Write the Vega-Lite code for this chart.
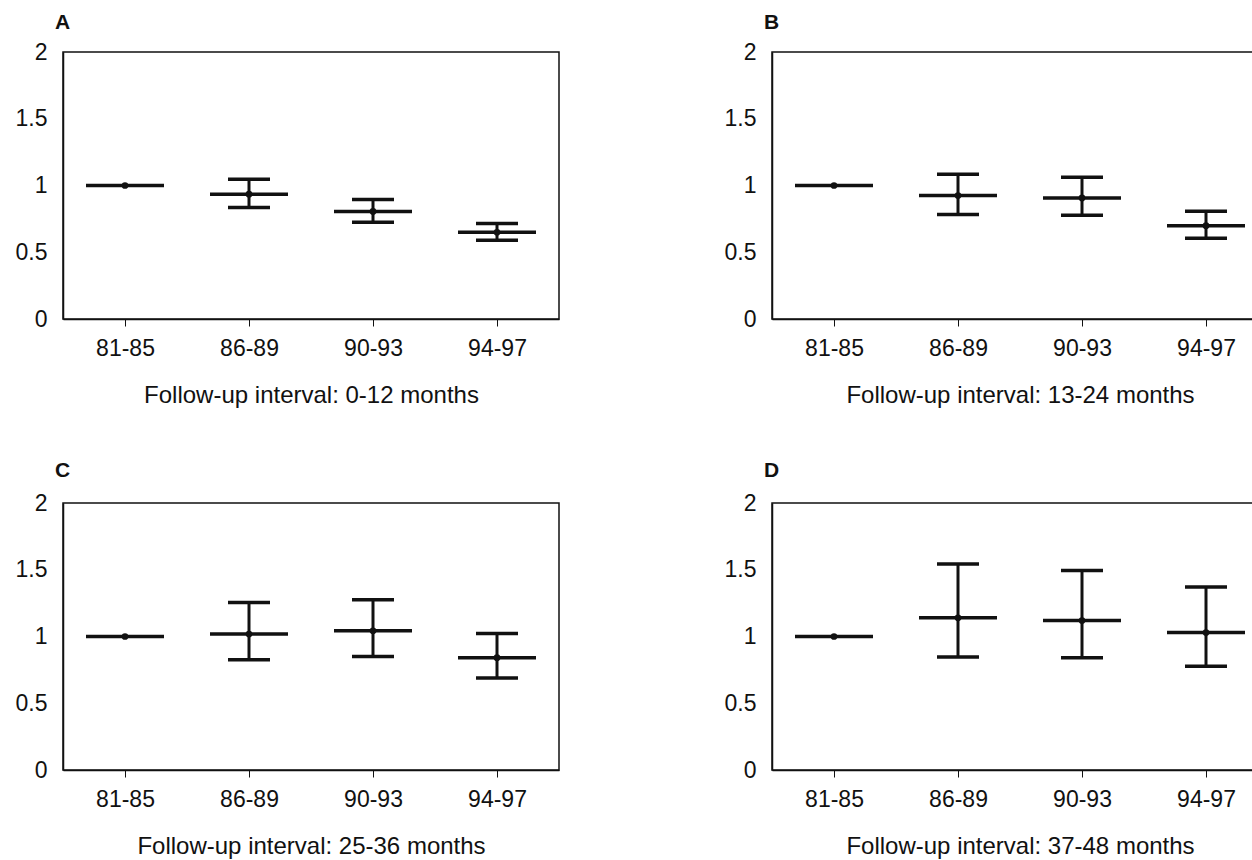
{
  "$schema": "https://vega.github.io/schema/vega-lite/v6.json",
  "background": "white",
  "padding": {"left": 14, "top": 11, "right": 0, "bottom": 0},
  "config": {
    "font": "Liberation Sans",
    "view": {"stroke": "#111", "strokeWidth": 1.5},
    "axis": {"labelFont": "Liberation Sans", "labelFontSize": 23, "labelColor": "#111", "titleFont": "Liberation Sans", "titleFontSize": 24, "titleFontWeight": "normal", "titleColor": "#111", "grid": false, "domainColor": "#111", "domainWidth": 1.5, "tickColor": "#111"},
    "title": {"font": "Liberation Sans", "fontSize": 21, "fontWeight": "bold", "anchor": "start", "frame": "group", "color": "#111", "offset": 8, "dx": -8},
    "tick": {"opacity": 1}
  },
  "datasets": {
    "d": [
      {"panel": "A", "period": "81-85", "est": 1.0, "lo": null, "hi": null},
      {"panel": "A", "period": "86-89", "est": 0.935, "lo": 0.835, "hi": 1.046},
      {"panel": "A", "period": "90-93", "est": 0.806, "lo": 0.724, "hi": 0.896},
      {"panel": "A", "period": "94-97", "est": 0.649, "lo": 0.59, "hi": 0.716},
      {"panel": "B", "period": "81-85", "est": 1.0, "lo": null, "hi": null},
      {"panel": "B", "period": "86-89", "est": 0.925, "lo": 0.783, "hi": 1.085},
      {"panel": "B", "period": "90-93", "est": 0.907, "lo": 0.778, "hi": 1.061},
      {"panel": "B", "period": "94-97", "est": 0.699, "lo": 0.604, "hi": 0.808},
      {"panel": "C", "period": "81-85", "est": 1.0, "lo": null, "hi": null},
      {"panel": "C", "period": "86-89", "est": 1.018, "lo": 0.826, "hi": 1.255},
      {"panel": "C", "period": "90-93", "est": 1.043, "lo": 0.851, "hi": 1.275},
      {"panel": "C", "period": "94-97", "est": 0.841, "lo": 0.689, "hi": 1.023},
      {"panel": "D", "period": "81-85", "est": 1.0, "lo": null, "hi": null},
      {"panel": "D", "period": "86-89", "est": 1.14, "lo": 0.847, "hi": 1.544},
      {"panel": "D", "period": "90-93", "est": 1.12, "lo": 0.84, "hi": 1.494},
      {"panel": "D", "period": "94-97", "est": 1.03, "lo": 0.777, "hi": 1.371}
    ]
  },
  "columns": 2,
  "spacing": {"row": 51, "column": 163},
  "concat": [
    {
      "title": {"text": "A"},
      "width": 496, "height": 267,
      "data": {"name": "d"},
      "transform": [{"filter": "datum.panel == 'A'"}],
      "encoding": {
        "x": {"field": "period", "type": "ordinal", "scale": {"type": "point", "padding": 0.5}, "axis": {"title": "Follow-up interval: 0-12 months", "labelAngle": 0, "tickSize": 7, "tickWidth": 1, "labelPadding": 11, "titlePadding": 23}}
      },
      "layer": [
        {"transform": [{"filter": "datum.lo != null"}], "mark": {"type": "rule", "strokeWidth": 3, "color": "#111"}, "encoding": {"y": {"field": "lo", "type": "quantitative", "scale": {"domain": [0, 2], "nice": false}, "axis": {"values": [0, 0.5, 1, 1.5, 2], "format": "~g", "ticks": false, "domain": true, "labelPadding": 16, "title": null}}, "y2": {"field": "hi"}}},
        {"transform": [{"filter": "datum.lo != null"}], "mark": {"type": "tick", "size": 42, "thickness": 3.5, "color": "#111", "opacity": 1}, "encoding": {"y": {"field": "hi", "type": "quantitative"}}},
        {"transform": [{"filter": "datum.lo != null"}], "mark": {"type": "tick", "size": 42, "thickness": 3.5, "color": "#111", "opacity": 1}, "encoding": {"y": {"field": "lo", "type": "quantitative"}}},
        {"mark": {"type": "tick", "size": 78, "thickness": 3.5, "color": "#111", "opacity": 1}, "encoding": {"y": {"field": "est", "type": "quantitative"}}},
        {"mark": {"type": "point", "shape": "circle", "filled": true, "size": 45, "color": "#111", "opacity": 1}, "encoding": {"y": {"field": "est", "type": "quantitative"}}}
      ]
    },
    {
      "title": {"text": "B"},
      "width": 496, "height": 267,
      "data": {"name": "d"},
      "transform": [{"filter": "datum.panel == 'B'"}],
      "encoding": {
        "x": {"field": "period", "type": "ordinal", "scale": {"type": "point", "padding": 0.5}, "axis": {"title": "Follow-up interval: 13-24 months", "labelAngle": 0, "tickSize": 7, "tickWidth": 1, "labelPadding": 11, "titlePadding": 23}}
      },
      "layer": [
        {"transform": [{"filter": "datum.lo != null"}], "mark": {"type": "rule", "strokeWidth": 3, "color": "#111"}, "encoding": {"y": {"field": "lo", "type": "quantitative", "scale": {"domain": [0, 2], "nice": false}, "axis": {"values": [0, 0.5, 1, 1.5, 2], "format": "~g", "ticks": false, "domain": true, "labelPadding": 16, "title": null}}, "y2": {"field": "hi"}}},
        {"transform": [{"filter": "datum.lo != null"}], "mark": {"type": "tick", "size": 42, "thickness": 3.5, "color": "#111", "opacity": 1}, "encoding": {"y": {"field": "hi", "type": "quantitative"}}},
        {"transform": [{"filter": "datum.lo != null"}], "mark": {"type": "tick", "size": 42, "thickness": 3.5, "color": "#111", "opacity": 1}, "encoding": {"y": {"field": "lo", "type": "quantitative"}}},
        {"mark": {"type": "tick", "size": 78, "thickness": 3.5, "color": "#111", "opacity": 1}, "encoding": {"y": {"field": "est", "type": "quantitative"}}},
        {"mark": {"type": "point", "shape": "circle", "filled": true, "size": 45, "color": "#111", "opacity": 1}, "encoding": {"y": {"field": "est", "type": "quantitative"}}}
      ]
    },
    {
      "title": {"text": "C", "offset": 11},
      "width": 496, "height": 267,
      "data": {"name": "d"},
      "transform": [{"filter": "datum.panel == 'C'"}],
      "encoding": {
        "x": {"field": "period", "type": "ordinal", "scale": {"type": "point", "padding": 0.5}, "axis": {"title": "Follow-up interval: 25-36 months", "labelAngle": 0, "tickSize": 7, "tickWidth": 1, "labelPadding": 11, "titlePadding": 23}}
      },
      "layer": [
        {"transform": [{"filter": "datum.lo != null"}], "mark": {"type": "rule", "strokeWidth": 3, "color": "#111"}, "encoding": {"y": {"field": "lo", "type": "quantitative", "scale": {"domain": [0, 2], "nice": false}, "axis": {"values": [0, 0.5, 1, 1.5, 2], "format": "~g", "ticks": false, "domain": true, "labelPadding": 16, "title": null}}, "y2": {"field": "hi"}}},
        {"transform": [{"filter": "datum.lo != null"}], "mark": {"type": "tick", "size": 42, "thickness": 3.5, "color": "#111", "opacity": 1}, "encoding": {"y": {"field": "hi", "type": "quantitative"}}},
        {"transform": [{"filter": "datum.lo != null"}], "mark": {"type": "tick", "size": 42, "thickness": 3.5, "color": "#111", "opacity": 1}, "encoding": {"y": {"field": "lo", "type": "quantitative"}}},
        {"mark": {"type": "tick", "size": 78, "thickness": 3.5, "color": "#111", "opacity": 1}, "encoding": {"y": {"field": "est", "type": "quantitative"}}},
        {"mark": {"type": "point", "shape": "circle", "filled": true, "size": 45, "color": "#111", "opacity": 1}, "encoding": {"y": {"field": "est", "type": "quantitative"}}}
      ]
    },
    {
      "title": {"text": "D", "offset": 11},
      "width": 496, "height": 267,
      "data": {"name": "d"},
      "transform": [{"filter": "datum.panel == 'D'"}],
      "encoding": {
        "x": {"field": "period", "type": "ordinal", "scale": {"type": "point", "padding": 0.5}, "axis": {"title": "Follow-up interval: 37-48 months", "labelAngle": 0, "tickSize": 7, "tickWidth": 1, "labelPadding": 11, "titlePadding": 23}}
      },
      "layer": [
        {"transform": [{"filter": "datum.lo != null"}], "mark": {"type": "rule", "strokeWidth": 3, "color": "#111"}, "encoding": {"y": {"field": "lo", "type": "quantitative", "scale": {"domain": [0, 2], "nice": false}, "axis": {"values": [0, 0.5, 1, 1.5, 2], "format": "~g", "ticks": false, "domain": true, "labelPadding": 16, "title": null}}, "y2": {"field": "hi"}}},
        {"transform": [{"filter": "datum.lo != null"}], "mark": {"type": "tick", "size": 42, "thickness": 3.5, "color": "#111", "opacity": 1}, "encoding": {"y": {"field": "hi", "type": "quantitative"}}},
        {"transform": [{"filter": "datum.lo != null"}], "mark": {"type": "tick", "size": 42, "thickness": 3.5, "color": "#111", "opacity": 1}, "encoding": {"y": {"field": "lo", "type": "quantitative"}}},
        {"mark": {"type": "tick", "size": 78, "thickness": 3.5, "color": "#111", "opacity": 1}, "encoding": {"y": {"field": "est", "type": "quantitative"}}},
        {"mark": {"type": "point", "shape": "circle", "filled": true, "size": 45, "color": "#111", "opacity": 1}, "encoding": {"y": {"field": "est", "type": "quantitative"}}}
      ]
    }
  ]
}
